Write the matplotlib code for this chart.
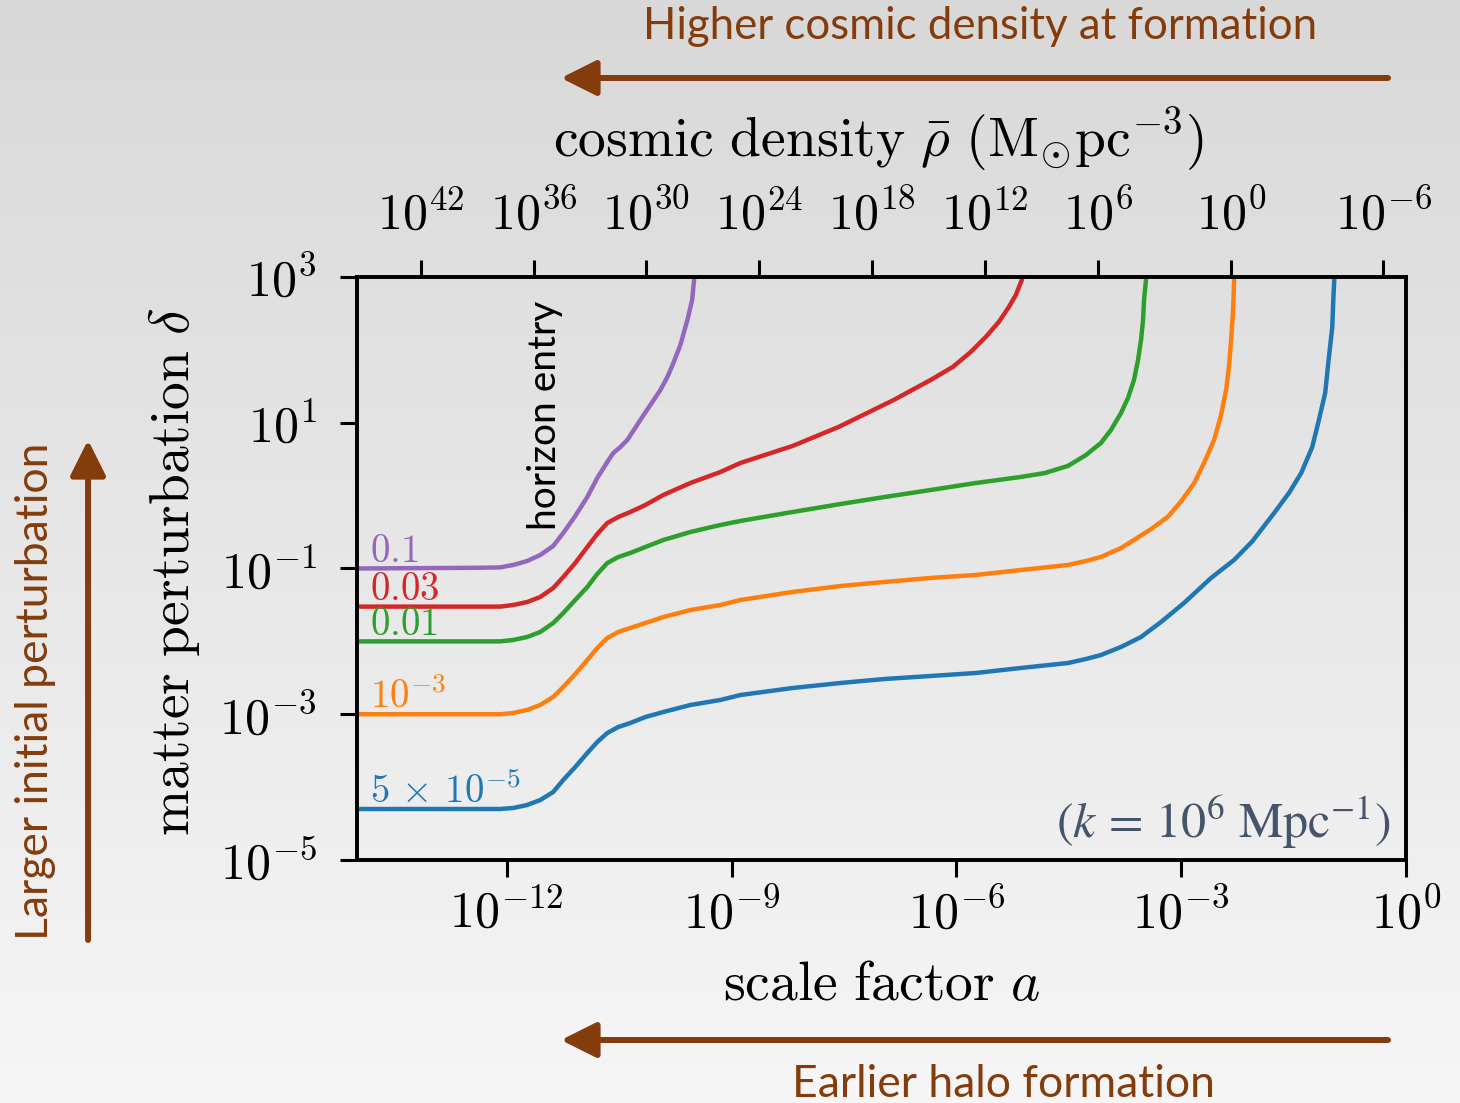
import numpy as np
import matplotlib
matplotlib.use("Agg")
import matplotlib.pyplot as plt
from matplotlib.colors import LinearSegmentedColormap
from matplotlib.patches import FancyArrowPatch
from matplotlib.ticker import FixedLocator, FixedFormatter, NullLocator


# curves: log10(a) vs log10(delta)
PURPLE_LOG_A = [-14.0, -12.356, -12.089, -11.915, -11.728, -11.554, -11.381, -11.247,
                -11.087, -10.926, -10.793, -10.659, -10.579, -10.485, -10.392, -10.218,
                -10.084, -9.951, -9.857, -9.777, -9.684, -9.590, -9.527, -9.501, -9.49]
PURPLE_LOG_D = [-1.0, -0.99, -0.985, -0.952, -0.897, -0.815, -0.691, -0.513,
                -0.280, -0.019, 0.242, 0.461, 0.585, 0.667, 0.763, 1.038,
                1.244, 1.449, 1.628, 1.820, 2.067, 2.410, 2.684, 2.959, 3.1]

RED_LOG_A = [-14.0, -12.356, -12.089, -11.915, -11.728, -11.554, -11.381, -11.247,
             -11.087, -10.926, -10.793, -10.659, -10.512, -10.352, -10.151, -9.911,
             -9.550, -9.149, -8.882, -8.187, -7.572, -6.837, -6.343, -6.049, -5.808,
             -5.608, -5.434, -5.300, -5.207, -5.127, -5.10]
RED_LOG_D = [-1.523, -1.523, -1.523, -1.501, -1.460, -1.391, -1.268, -1.117,
             -0.925, -0.705, -0.527, -0.376, -0.293, -0.225, -0.129, 0.009,
             0.173, 0.324, 0.448, 0.681, 0.942, 1.312, 1.587, 1.765, 1.971,
             2.177, 2.383, 2.588, 2.753, 2.959, 3.1]

GREEN_LOG_A = [-14.0, -12.356, -12.089, -11.915, -11.728, -11.554, -11.381, -11.247,
               -11.087, -10.926, -10.793, -10.659, -10.512, -10.352, -10.151, -9.911,
               -9.550, -9.149, -8.882, -8.187, -7.545, -6.957, -6.343, -5.741, -5.140,
               -4.819, -4.512, -4.271, -4.071, -3.937, -3.803, -3.710, -3.630, -3.576,
               -3.536, -3.509, -3.496, -3.470, -3.46]
GREEN_LOG_D = [-2.0, -2.0, -2.0, -1.981, -1.940, -1.871, -1.748, -1.611,
               -1.432, -1.254, -1.075, -0.925, -0.842, -0.787, -0.705, -0.609,
               -0.499, -0.403, -0.348, -0.225, -0.115, -0.019, 0.077, 0.173, 0.256,
               0.310, 0.407, 0.557, 0.722, 0.901, 1.134, 1.340, 1.587, 1.861,
               2.136, 2.410, 2.684, 2.959, 3.1]

ORANGE_LOG_A = [-14.0, -12.356, -12.089, -11.915, -11.728, -11.554, -11.381, -11.247,
                -11.087, -10.926, -10.793, -10.659, -10.512, -10.352, -10.151, -9.911,
                -9.550, -9.149, -8.882, -8.187, -7.545, -6.957, -6.343, -5.741, -5.140,
                -4.512, -4.271, -4.071, -3.803, -3.630, -3.403, -3.176, -3.002, -2.828,
                -2.695, -2.561, -2.468, -2.400, -2.360, -2.334, -2.307, -2.294, -2.28]
ORANGE_LOG_D = [-3.0, -3.0, -3.0, -2.983, -2.941, -2.873, -2.763, -2.626,
                -2.448, -2.256, -2.091, -1.954, -1.871, -1.816, -1.748, -1.666,
                -1.570, -1.501, -1.432, -1.322, -1.240, -1.185, -1.130, -1.089, -1.021,
                -0.952, -0.897, -0.842, -0.720, -0.609, -0.460, -0.289, -0.080, 0.169,
                0.448, 0.763, 1.106, 1.449, 1.792, 2.136, 2.547, 2.959, 3.1]

BLUE_LOG_A = [-14.0, -12.356, -12.089, -11.915, -11.728, -11.554, -11.381, -11.247,
              -11.087, -10.926, -10.793, -10.659, -10.512, -10.352, -10.151, -9.911,
              -9.550, -9.149, -8.882, -8.187, -7.545, -6.957, -6.343, -5.741, -5.140,
              -4.512, -4.271, -4.071, -3.803, -3.536, -3.269, -2.962, -2.601, -2.294,
              -2.053, -1.759, -1.559, -1.398, -1.251, -1.171, -1.078, -1.037, -0.984,
              -0.970, -0.957, -0.95]
BLUE_LOG_D = [-4.30, -4.30, -4.30, -4.286, -4.245, -4.177, -4.067, -3.902,
              -3.724, -3.532, -3.381, -3.257, -3.175, -3.120, -3.038, -2.969,
              -2.873, -2.804, -2.736, -2.640, -2.571, -2.516, -2.475, -2.434, -2.365,
              -2.297, -2.242, -2.187, -2.077, -1.940, -1.734, -1.473, -1.130, -0.883,
              -0.630, -0.238, 0.040, 0.311, 0.667, 1.000, 1.410, 1.820, 2.310,
              2.684, 2.959, 3.1]

CURVE_LABELS = [r"$0.1$", r"$0.03$", r"$0.01$", r"$10^{-3}$", r"$5\,\times\,10^{-5}$"]
CURVE_START = [0.1, 0.03, 0.01, 1e-3, 5e-5]
CURVE_COLORS = ["tab:purple", "tab:red", "tab:green", "tab:orange", "tab:blue"]

X_TICKS = [1e-12, 1e-9, 1e-6, 1e-3, 1e0]
X_TICK_LABELS = [r"$10^{-12}$", r"$10^{-9}$", r"$10^{-6}$", r"$10^{-3}$", r"$10^{0}$"]
Y_TICKS = [1e-5, 1e-3, 1e-1, 1e1, 1e3]
Y_TICK_LABELS = [r"$10^{-5}$", r"$10^{-3}$", r"$10^{-1}$", r"$10^{1}$", r"$10^{3}$"]

# cosmic density ticks on top axis, placed at the scale factor they belong to
RHO_TICK_LOG_A = [-13.145, -11.635, -10.138, -8.628, -7.131, -5.621, -4.111, -2.333, -0.302]
RHO_TICK_LABELS = [r"$10^{42}$", r"$10^{36}$", r"$10^{30}$", r"$10^{24}$", r"$10^{18}$",
                   r"$10^{12}$", r"$10^{6}$", r"$10^{0}$", r"$10^{-6}$"]

BROWN = "#843C0C"
NOTE_COLOR = "#44546A"
SANS = ["Lato", "DejaVu Sans"]

plt.rcParams["mathtext.fontset"] = "cm"

fig = plt.figure(figsize=(14.6, 11.03), dpi=100)

# slide background gradient
bg = fig.add_axes([0, 0, 1, 1], zorder=0)
bg_cmap = LinearSegmentedColormap.from_list("bg", ["#d8d8d8", "#f6f6f6"])
bg.imshow(np.linspace(0, 1, 256)[:, None], aspect="auto", cmap=bg_cmap,
          extent=[0, 1, 0, 1], origin="upper")
bg.axis("off")

ax = fig.add_axes([0.2445, 0.2203, 0.7185, 0.5286], zorder=1)
ax.set_facecolor("none")

curves = [
    (PURPLE_LOG_A, PURPLE_LOG_D),
    (RED_LOG_A, RED_LOG_D),
    (GREEN_LOG_A, GREEN_LOG_D),
    (ORANGE_LOG_A, ORANGE_LOG_D),
    (BLUE_LOG_A, BLUE_LOG_D),
]
for (log_a, log_d), color, label, d0 in zip(curves, CURVE_COLORS, CURVE_LABELS, CURVE_START):
    ax.plot(10 ** np.array(log_a), 10 ** np.array(log_d), color=color, lw=3.2,
            solid_joinstyle="round")
    ax.annotate(label, xy=(10 ** -13.83, d0), xytext=(0, 4.5), textcoords="offset points",
                color=color, fontsize=28, ha="left", va="baseline")

ax.set_xscale("log")
ax.set_yscale("log")
ax.set_xlim(1e-14, 1e0)
ax.set_ylim(1e-5, 1e3)

ax.xaxis.set_major_locator(FixedLocator(X_TICKS))
ax.xaxis.set_major_formatter(FixedFormatter(X_TICK_LABELS))
ax.xaxis.set_minor_locator(NullLocator())
ax.yaxis.set_major_locator(FixedLocator(Y_TICKS))
ax.yaxis.set_major_formatter(FixedFormatter(Y_TICK_LABELS))
ax.yaxis.set_minor_locator(NullLocator())

ax.tick_params(axis="x", which="major", direction="out", length=12, width=2.2,
               labelsize=36, pad=9)
ax.tick_params(axis="y", which="major", direction="out", length=12, width=2.2,
               labelsize=36, pad=17)
for spine in ax.spines.values():
    spine.set_linewidth(2.6)

ax.set_xlabel(r"$\mathrm{scale\ factor}\ a$", fontsize=40)
ax.xaxis.set_label_coords(0.5, -0.215)
ax.xaxis.label.set_va("center")
ax.set_ylabel(r"$\mathrm{matter\ perturbation}\ \delta$", fontsize=40)
ax.yaxis.set_label_coords(-0.174, 0.495)
ax.yaxis.label.set_va("center")

# top axis: cosmic density
ax_top = ax.twiny()
ax_top.set_xscale("log")
ax_top.set_xlim(ax.get_xlim())
ax_top.xaxis.set_major_locator(FixedLocator([10 ** v for v in RHO_TICK_LOG_A]))
ax_top.xaxis.set_major_formatter(FixedFormatter(RHO_TICK_LABELS))
ax_top.xaxis.set_minor_locator(NullLocator())
ax_top.tick_params(axis="x", which="major", direction="out", length=12, width=2.2,
                   labelsize=36, pad=15)
for spine in ax_top.spines.values():
    spine.set_linewidth(2.6)
ax_top.set_xlabel(r"$\mathrm{cosmic\ density}\ \bar{\rho}\ (\mathrm{M}_{\odot}\mathrm{pc}^{-3})$",
                  fontsize=40)
ax_top.xaxis.set_label_coords(0.497, 1.235)
ax_top.xaxis.label.set_va("center")

ax.text(10 ** -11.49, 10 ** 1.106, "horizon entry", rotation=90, ha="center", va="center",
        fontsize=28, color="black", family=SANS)
ax.text(0.985, 0.015, r"$(k\,=\,10^{6}\ \mathrm{Mpc}^{-1})$", transform=ax.transAxes,
        ha="right", va="bottom", fontsize=36, color=NOTE_COLOR, math_fontfamily="stix")

# slide annotations
arrow_kw = dict(arrowstyle="-|>,head_length=0.4,head_width=0.2", mutation_scale=54,
                color=BROWN, lw=4.3, shrinkA=0, shrinkB=0, transform=fig.transFigure)
fig.add_artist(FancyArrowPatch((0.9507, 0.9293), (0.3842, 0.9293), **arrow_kw))
fig.add_artist(FancyArrowPatch((0.9507, 0.0571), (0.3842, 0.0571), **arrow_kw))
fig.add_artist(FancyArrowPatch((0.0603, 0.1478), (0.0603, 0.6011), **arrow_kw))

fig.text(0.671, 0.976, "Higher cosmic density at formation", ha="center", va="center",
         fontsize=31.5, color=BROWN, family=SANS)
fig.text(0.687, 0.0165, "Earlier halo formation", ha="center", va="center",
         fontsize=32, color=BROWN, family=SANS)
fig.text(0.024, 0.3735, "Larger initial perturbation", ha="center", va="center",
         rotation=90, fontsize=32, color=BROWN, family=SANS)

fig.savefig("out.png", dpi=100)
